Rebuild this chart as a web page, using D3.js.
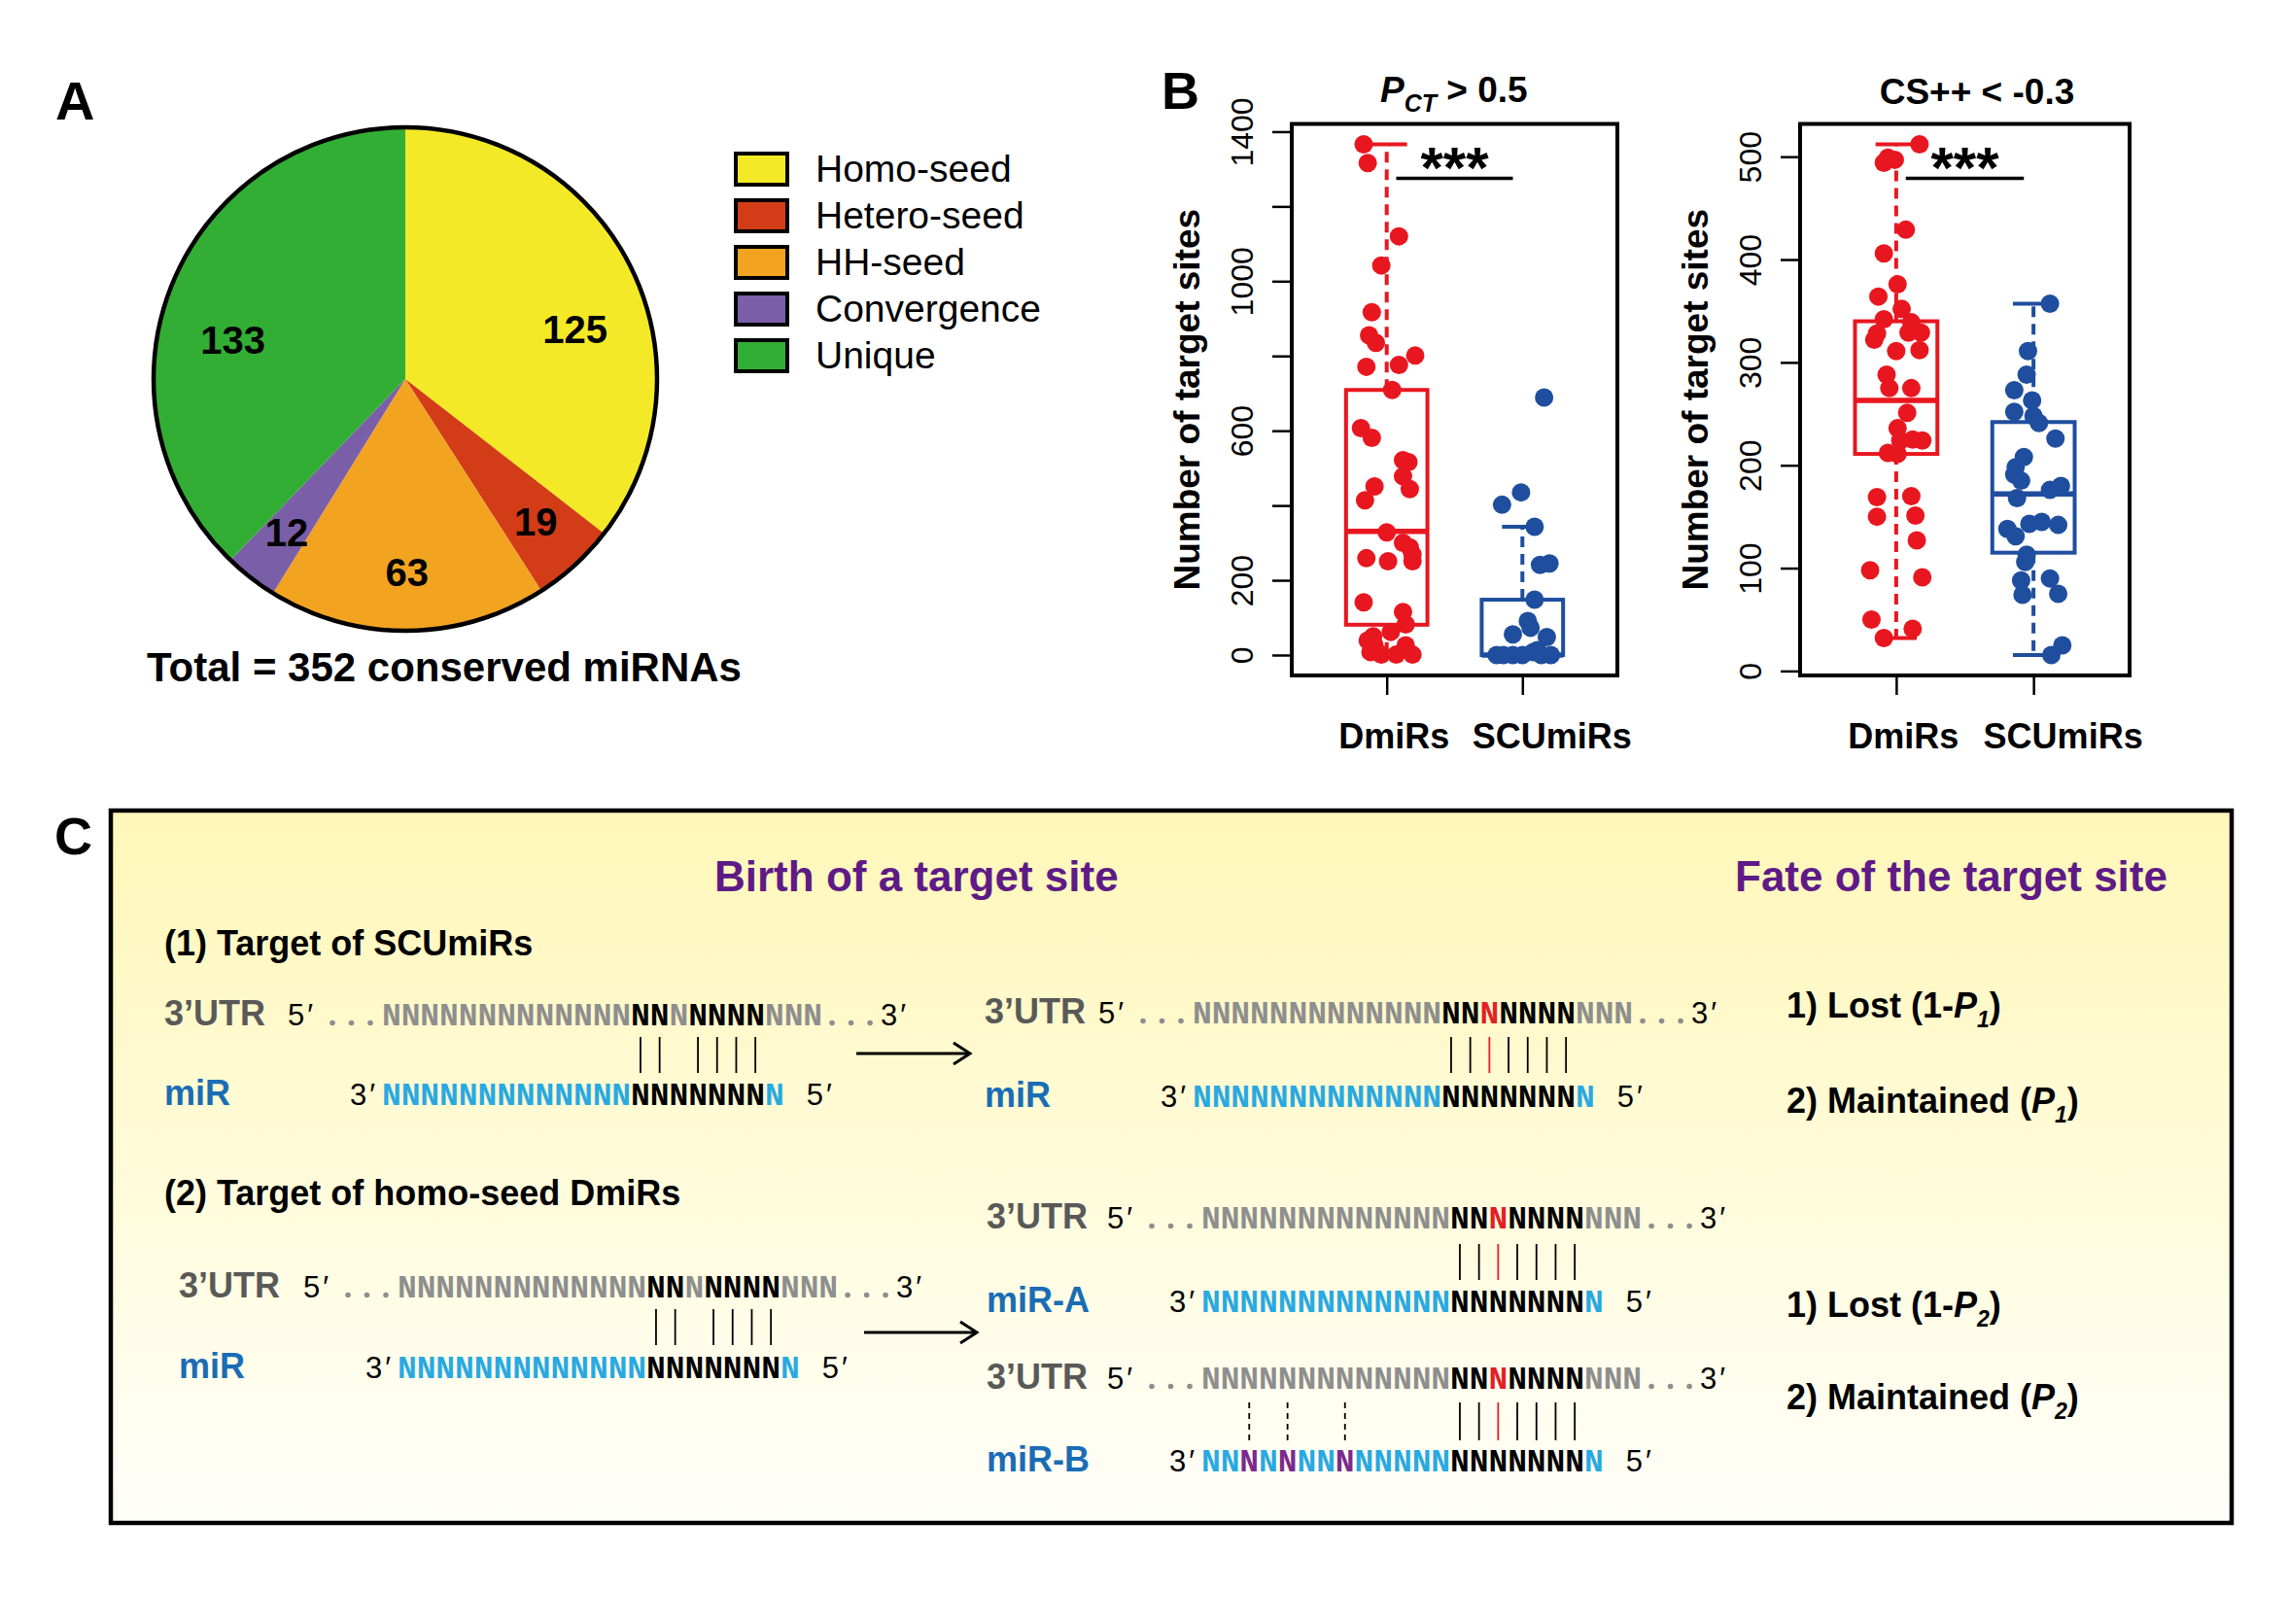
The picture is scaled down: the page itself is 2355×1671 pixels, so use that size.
<!DOCTYPE html>
<html>
<head>
<meta charset="utf-8">
<script src="https://cdn.jsdelivr.net/npm/d3@7"></script>
<style>
  body { margin: 0; background: #fff; }
  svg { display: block; }
  text { font-family: "Liberation Sans", Arial, Helvetica, sans-serif; }
</style>
</head>
<body>
<div id="canvas"></div>
<script>
// ---- panel A data
const pieLabels = ["Homo-seed", "Hetero-seed", "HH-seed", "Convergence", "Unique"];
const pieValues = [125, 19, 63, 12, 133];
const pieColors = ["#F4E926", "#D23D17", "#F2A421", "#7A5EA8", "#33AE35"];

// ---- panel B data
const groups = ["DmiRs", "SCUmiRs"];
const pctTicks = [0, 200, 400, 600, 800, 1000, 1200, 1400];
const pctTickLabels = [0, 200, 600, 1000, 1400];
const csTicks = [0, 100, 200, 300, 400, 500];
const csTickLabels = [0, 100, 200, 300, 400, 500];
// [lower whisker, Q1, median, Q3, upper whisker]
const pctStats = [[0, 81, 331, 709, 1366], [0, 0, 0, 148, 343]];
const csStats = [[32, 211, 263, 340, 512], [15.5, 115, 172, 242, 357]];
// [jitter (group units), number of target sites]
const pctDmiRs = [[-0.17,1366],[-0.14,1316],[0.09,1120],[-0.04,1042],[-0.11,917],[-0.13,855],[-0.08,835],[0.21,801],[-0.15,771],[0.09,776],[0.04,709],[-0.19,607],[-0.11,581],[0.12,521],[0.16,516],[0.12,478],[-0.09,451],[0.17,444],[-0.16,414],[0.0,328],[0.12,300],[0.17,288],[0.19,269],[-0.15,259],[0.01,251],[0.19,251],[-0.17,141],[0.12,115],[0.14,82],[0.03,62],[-0.10,50],[-0.14,39],[-0.09,26],[0.14,26],[-0.12,8],[-0.04,1],[0.07,1],[0.19,1]];
const pctSCUmiRs = [[0.16,689],[-0.01,435],[-0.15,402],[0.09,343],[0.13,241],[0.20,245],[0.09,148],[0.04,91],[0.06,73],[-0.07,55],[0.18,48],[-0.19,0],[-0.14,0],[-0.07,0],[0.0,0],[0.08,8],[0.11,13],[0.14,0],[0.21,0]];
const csDmiRs = [[0.17,512],[-0.09,494],[-0.01,497],[-0.06,499],[0.07,429],[-0.09,406],[0.01,376],[-0.13,364],[0.04,352],[-0.09,342],[0.11,339],[-0.14,328],[-0.16,322],[0.09,329],[0.18,329],[0.17,312],[0.0,311],[-0.07,288],[-0.05,275],[0.11,275],[0.08,251],[0.01,236],[0.03,224],[0.19,224],[0.12,225],[-0.06,212],[0.01,211],[-0.14,169],[0.11,170],[-0.14,150],[0.14,151],[0.15,127],[-0.19,98],[0.19,91],[-0.18,50],[0.12,41],[-0.09,32]];
const csSCUmiRs = [[0.12,357],[-0.04,311],[-0.05,288],[-0.14,273],[-0.01,263],[-0.14,252],[0.0,248],[0.04,241],[0.16,226],[-0.07,208],[-0.13,198],[-0.14,191],[-0.09,185],[0.12,176],[0.20,180],[-0.12,168],[-0.19,138],[-0.13,131],[-0.03,143],[0.06,145],[0.18,142],[-0.05,113],[-0.06,106],[-0.09,88],[0.12,90],[-0.08,74],[0.18,75],[0.21,25],[0.13,15.5]];
const groupColors = ["#E8171F", "#1F4E9F"];

// ---- panel C data (g grey, k black, r red, b blue, p purple)
const utrBefore = "gggggggggggggkkgkkkkggg";
const utrAfter = "gggggggggggggkkrkkkkggg";
const mirSeq = "bbbbbbbbbbbbbkkkkkkkb";
const mirBSeq = "bbpbpbbpbbbbbkkkkkkkb";
const pairBefore = [13, 14, 16, 17, 18, 19];
const pairAfter = [13, 14, 15, 16, 17, 18, 19];
const pairChanged = 15;
const pairExtra = [2, 4, 7];
const ntColors = { g: "#8E8E8E", k: "#000", r: "#E41E26", b: "#29A9E1", p: "#7B2A8C" };

const width = 2355;
const height = 1671;

const svg = d3.select("#canvas").append("svg")
  .attr("width", width)
  .attr("height", height);

svg.append("rect").attr("width", width).attr("height", height).attr("fill", "#fff");

// =================== A: pie ===================
svg.append("text").attr("x", 57).attr("y", 123)
  .attr("font-size", 56).attr("font-weight", "bold").text("A");

const cx = 417, cy = 390, r = 259;
const pie = d3.pie().sort(null).value((d) => d);
const arc = d3.arc().innerRadius(0).outerRadius(r);

const gPie = svg.append("g").attr("transform", `translate(${cx},${cy})`);
const slices = pie(pieValues);
gPie.selectAll("path").data(slices).enter().append("path")
  .attr("d", arc)
  .attr("fill", (d, i) => pieColors[i]);
gPie.append("circle").attr("r", r).attr("fill", "none")
  .attr("stroke", "#000").attr("stroke-width", 4.5);

// labels: small slices near the rim, big ones pulled toward the horizontal
function labelPos(d) {
  let a = (d.startAngle + d.endAngle) / 2;
  const big = d.endAngle - d.startAngle > 2;
  if (big) a += a < Math.PI ? 0.17 : -0.16;
  const rr = big ? 182 : 199;
  return [rr * Math.sin(a), -rr * Math.cos(a)];
}
gPie.selectAll(".lab").data(slices).enter().append("text")
  .attr("class", "lab")
  .attr("transform", (d) => `translate(${labelPos(d)})`)
  .attr("text-anchor", "middle").attr("dy", "0.36em")
  .attr("font-size", 40).attr("font-weight", "bold")
  .text((d) => d.data);

svg.append("text").attr("x", 457).attr("y", 701)
  .attr("text-anchor", "middle").attr("font-size", 42).attr("font-weight", "bold")
  .text("Total = " + d3.sum(pieValues) + " conserved miRNAs");

// legend
const legend = svg.append("g").attr("transform", "translate(757,158)");
const lg = legend.selectAll("g").data(pieLabels).enter().append("g")
  .attr("transform", (d, i) => `translate(0,${i * 48})`);
lg.append("rect").attr("width", 53).attr("height", 32)
  .attr("fill", (d, i) => pieColors[i]).attr("stroke", "#000").attr("stroke-width", 4);
lg.append("text").attr("x", 82).attr("y", 29).attr("font-size", 39).text((d) => d);

// =================== B: boxplots ===================
svg.append("text").attr("x", 1195).attr("y", 112)
  .attr("font-size", 54).attr("font-weight", "bold").text("B");

function boxPanel(opt) {
  const g = svg.append("g");
  const x = d3.scaleLinear().domain([0.3, 2.7]).range([opt.left, opt.right]);
  const vals = opt.points.flat().map((d) => d[1]).concat(opt.stats.flat());
  const lo = d3.min(vals), hi = d3.max(vals), pad = (hi - lo) * 0.04;
  const y = d3.scaleLinear().domain([lo - pad, hi + pad]).range([opt.bottom, opt.top]);

  // y axis
  const ya = g.append("g").attr("transform", `translate(${opt.left},0)`)
    .call(d3.axisLeft(y).tickValues(opt.ticks).tickSize(20)
      .tickFormat((d) => (opt.tickLabels.includes(d) ? d : "")));
  ya.select(".domain").remove();
  ya.selectAll("line").attr("stroke", "#000").attr("stroke-width", 2.5);
  ya.selectAll("text")
    .attr("transform", "rotate(-90)")
    .attr("x", 0).attr("y", -40).attr("dy", 0)
    .attr("text-anchor", "middle")
    .attr("font-size", 32).attr("fill", "#000")
    .style("font-family", '"Liberation Sans", Arial, sans-serif');
  ya.append("line")
    .attr("y1", y(d3.min(opt.ticks))).attr("y2", y(d3.max(opt.ticks)))
    .attr("stroke", "#000").attr("stroke-width", 2.5);

  // y title
  g.append("text")
    .attr("transform", `translate(${opt.left - 95},${(opt.top + opt.bottom) / 2}) rotate(-90)`)
    .attr("text-anchor", "middle").attr("font-size", 37).attr("font-weight", "bold")
    .text("Number of target sites");

  // x axis
  const xa = g.append("g").attr("transform", `translate(0,${opt.bottom})`)
    .call(d3.axisBottom(x).tickValues([1, 2]).tickSize(20).tickFormat((d) => groups[d - 1]));
  xa.select(".domain").remove();
  xa.selectAll("line").attr("stroke", "#000").attr("stroke-width", 2.5);
  xa.selectAll("text")
    .attr("y", 75).attr("dy", 0)
    .attr("dx", (d) => (d === 1 ? 7 : 30))
    .attr("font-size", 36).attr("font-weight", "bold").attr("fill", "#000")
    .style("font-family", '"Liberation Sans", Arial, sans-serif');

  // boxes
  opt.stats.forEach((s, i) => {
    const c = i + 1, col = groupColors[i];
    const bw = 0.3, cw = 0.15;
    g.append("line").attr("x1", x(c)).attr("x2", x(c))
      .attr("y1", y(s[3])).attr("y2", y(s[4]))
      .attr("stroke", col).attr("stroke-width", 4).attr("stroke-dasharray", "11,7");
    g.append("line").attr("x1", x(c)).attr("x2", x(c))
      .attr("y1", y(s[1])).attr("y2", y(s[0]))
      .attr("stroke", col).attr("stroke-width", 4).attr("stroke-dasharray", "11,7");
    [s[0], s[4]].forEach((v) => {
      g.append("line").attr("x1", x(c - cw)).attr("x2", x(c + cw))
        .attr("y1", y(v)).attr("y2", y(v))
        .attr("stroke", col).attr("stroke-width", 4);
    });
    g.append("rect").attr("x", x(c - bw)).attr("width", x(c + bw) - x(c - bw))
      .attr("y", y(s[3])).attr("height", y(s[1]) - y(s[3]))
      .attr("fill", "none").attr("stroke", col).attr("stroke-width", 4);
    g.append("line").attr("x1", x(c - bw)).attr("x2", x(c + bw))
      .attr("y1", y(s[2])).attr("y2", y(s[2]))
      .attr("stroke", col).attr("stroke-width", 5.5);
  });

  // points
  opt.points.forEach((pts, i) => {
    g.selectAll(null).data(pts).enter().append("circle")
      .attr("cx", (d) => x(i + 1 + d[0]))
      .attr("cy", (d) => y(d[1]))
      .attr("r", 9.5)
      .attr("fill", groupColors[i]);
  });

  // plot frame
  g.append("rect").attr("x", opt.left).attr("y", opt.top)
    .attr("width", opt.right - opt.left).attr("height", opt.bottom - opt.top)
    .attr("fill", "none").attr("stroke", "#000").attr("stroke-width", 4);

  // significance
  const sy = opt.top + 56;
  g.append("line").attr("x1", x(1.07)).attr("x2", x(1.93))
    .attr("y1", sy).attr("y2", sy).attr("stroke", "#000").attr("stroke-width", 3.5);
  g.append("text").attr("x", x(1.5)).attr("y", sy + 9)
    .attr("text-anchor", "middle").attr("font-size", 60).attr("font-weight", "bold")
    .text("***");

  return g;
}

const pctPanel = boxPanel({
  left: 1329, right: 1664, top: 127.5, bottom: 695,
  ticks: pctTicks, tickLabels: pctTickLabels, stats: pctStats,
  points: [pctDmiRs, pctSCUmiRs]
});
const t1 = pctPanel.append("text").attr("x", 1420).attr("y", 105)
  .attr("font-size", 37).attr("font-weight", "bold");
t1.append("tspan").attr("font-style", "italic").text("P");
t1.append("tspan").attr("font-style", "italic").attr("font-size", 25).attr("dy", 10).text("CT");
t1.append("tspan").attr("dy", -10).text(" > 0.5");

const csPanel = boxPanel({
  left: 1852, right: 2191, top: 127.5, bottom: 695,
  ticks: csTicks, tickLabels: csTickLabels, stats: csStats,
  points: [csDmiRs, csSCUmiRs]
});
csPanel.append("text").attr("x", 2034).attr("y", 107)
  .attr("text-anchor", "middle").attr("font-size", 37).attr("font-weight", "bold")
  .text("CS++ < -0.3");

// =================== C: schematic ===================
const defs = svg.append("defs");
const grad = defs.append("linearGradient").attr("id", "bgC")
  .attr("x1", 0).attr("y1", 0).attr("x2", 0).attr("y2", 1);
grad.append("stop").attr("offset", "0%").attr("stop-color", "#FFF7B8");
grad.append("stop").attr("offset", "100%").attr("stop-color", "#FFFFFA");

svg.append("rect").attr("x", 114).attr("y", 834).attr("width", 2182).attr("height", 733)
  .attr("fill", "url(#bgC)").attr("stroke", "#000").attr("stroke-width", 4.5);

svg.append("text").attr("x", 56).attr("y", 879)
  .attr("font-size", 54).attr("font-weight", "bold").text("C");

const purple = "#5E1A87";
const labelBlue = "#1A6DB5";
svg.append("text").attr("x", 735).attr("y", 917).attr("font-size", 44)
  .attr("font-weight", "bold").attr("fill", purple).text("Birth of a target site");
svg.append("text").attr("x", 1785).attr("y", 917).attr("font-size", 44)
  .attr("font-weight", "bold").attr("fill", purple).text("Fate of the target site");

svg.append("text").attr("x", 169).attr("y", 983).attr("font-size", 36)
  .attr("font-weight", "bold").text("(1) Target of SCUmiRs");
svg.append("text").attr("x", 169).attr("y", 1240).attr("font-size", 36)
  .attr("font-weight", "bold").text("(2) Target of homo-seed DmiRs");

const charW = 19.7;
const C = svg.append("g");

function seqText(x0, base, codes) {
  C.selectAll(null).data(codes.split("")).enter().append("text")
    .attr("x", (d, i) => x0 + (i + 0.5) * charW)
    .attr("y", base)
    .attr("text-anchor", "middle")
    .attr("font-size", 33).attr("font-weight", "bold")
    .style("font-family", '"Liberation Mono", "DejaVu Sans Mono", monospace')
    .attr("fill", (d) => ntColors[d])
    .text("N");
}
function prime(x, base, s) {
  C.append("text").attr("x", x).attr("y", base).attr("font-size", 31)
    .attr("letter-spacing", 3).text(s);
}
function dots(x, base) {
  [0, 1, 2].forEach((k) => {
    C.append("circle").attr("cx", x + k * 19.5).attr("cy", base - 2.5).attr("r", 2.8)
      .attr("fill", "#8E8E8E");
  });
}
function utrRow(labelX, x0, base, codes) {
  C.append("text").attr("x", labelX).attr("y", base).attr("font-size", 36)
    .attr("font-weight", "bold").attr("fill", "#595959").text("3’UTR");
  prime(x0 - 97, base, "5′");
  dots(x0 - 51, base);
  seqText(x0, base, codes);
  const end = x0 + codes.length * charW;
  dots(end + 10, base);
  prime(end + 60, base, "3′");
}
function mirRow(label, labelX, x0, base, codes) {
  C.append("text").attr("x", labelX).attr("y", base).attr("font-size", 36)
    .attr("font-weight", "bold").attr("fill", labelBlue).text(label);
  prime(x0 - 33, base, "3′");
  seqText(x0, base, codes);
  prime(x0 + codes.length * charW + 23, base, "5′");
}
function pairs(x0, y1, y2, idx, opts = {}) {
  C.selectAll(null).data(idx).enter().append("line")
    .attr("x1", (d) => x0 + (d + 0.5) * charW).attr("x2", (d) => x0 + (d + 0.5) * charW)
    .attr("y1", y1).attr("y2", y2)
    .attr("stroke", (d) => (d === opts.red ? "#E41E26" : "#000"))
    .attr("stroke-width", 1.8)
    .attr("stroke-dasharray", opts.dashed ? "6,5" : null);
}
function arrow(x1, x2, yy) {
  C.append("line").attr("x1", x1).attr("x2", x2).attr("y1", yy).attr("y2", yy)
    .attr("stroke", "#000").attr("stroke-width", 3);
  C.append("path").attr("d", `M${x2 - 17},${yy - 11}L${x2},${yy}L${x2 - 17},${yy + 11}`)
    .attr("fill", "none").attr("stroke", "#000").attr("stroke-width", 3);
}
function fate(x, base, head, sub, lost) {
  const t = C.append("text").attr("x", x).attr("y", base).attr("font-size", 36)
    .attr("font-weight", "bold");
  t.append("tspan").text(head + (lost ? " (1-" : " ("));
  t.append("tspan").attr("font-style", "italic").text("P");
  t.append("tspan").attr("font-style", "italic").attr("font-size", 23).attr("dy", 10).text(sub);
  t.append("tspan").attr("dy", -10).text(")");
}

// (1) SCUmiRs: before
utrRow(169, 393, 1055, utrBefore);
pairs(393, 1067, 1104, pairBefore);
mirRow("miR", 169, 393, 1137, mirSeq);
arrow(881, 998, 1084);
// after
utrRow(1013, 1227, 1053, utrAfter);
pairs(1227, 1067, 1104, pairAfter, { red: pairChanged });
mirRow("miR", 1013, 1227, 1139, mirSeq);
fate(1838, 1047, "1) Lost", "1", true);
fate(1838, 1145, "2) Maintained", "1", false);

// (2) homo-seed DmiRs: before
utrRow(184, 409, 1335, utrBefore);
pairs(409, 1347, 1384, pairBefore);
mirRow("miR", 184, 409, 1418, mirSeq);
arrow(889, 1005, 1371);
// after, miR-A
utrRow(1015, 1236, 1264, utrAfter);
pairs(1236, 1280, 1317, pairAfter, { red: pairChanged });
mirRow("miR-A", 1015, 1236, 1350, mirSeq);
// after, miR-B
utrRow(1015, 1236, 1429, utrAfter);
pairs(1236, 1443, 1482, pairAfter, { red: pairChanged });
pairs(1236, 1443, 1482, pairExtra, { dashed: true });
mirRow("miR-B", 1015, 1236, 1514, mirBSeq);
fate(1838, 1355, "1) Lost", "2", true);
fate(1838, 1450, "2) Maintained", "2", false);
</script>
</body>
</html>
